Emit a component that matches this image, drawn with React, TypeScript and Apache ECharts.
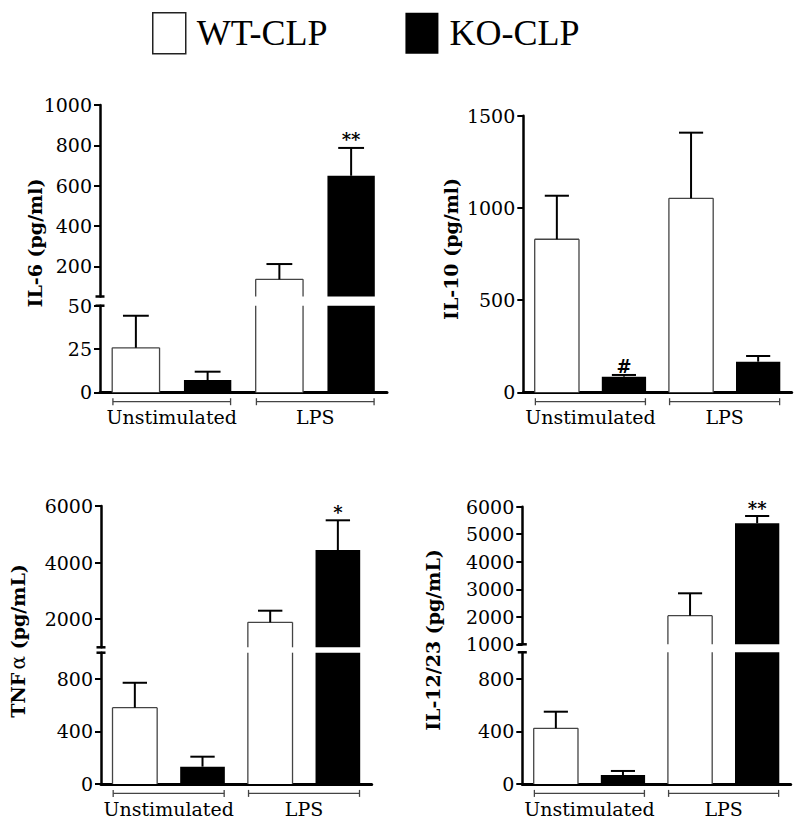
import React, { useEffect, useRef } from 'react';
import * as echarts from 'echarts';

const categories = ['Unstimulated', 'LPS'];
const groupNames = ['WT-CLP', 'KO-CLP'];

// IL-6 (pg/ml)
const il6WT = [25.7, 135];
const il6WTErr = [18.5, 76];
const il6KO = [7.1, 649];
const il6KOErr = [4.8, 138];
const il6KOSig = ['', '**'];
const il6LowerTicks = [0, 25, 50];
const il6UpperTicks = [200, 400, 600, 800, 1000];

// IL-10 (pg/ml)
const il10WT = [830, 1052];
const il10WTErr = [236, 356];
const il10KO = [85, 166];
const il10KOErr = [9, 31];
const il10KOSig = ['#', ''];
const il10Ticks = [0, 500, 1000, 1500];

// TNF alpha (pg/mL)
const tnfWT = [581, 1885];
const tnfWTErr = [190, 410];
const tnfKO = [132, 4443];
const tnfKOErr = [76, 1051];
const tnfKOSig = ['', '*'];
const tnfLowerTicks = [0, 400, 800];
const tnfUpperTicks = [2000, 4000, 6000];

// IL-12/23 (pg/mL)
const il12WT = [423, 2039];
const il12WTErr = [126, 814];
const il12KO = [68, 5397];
const il12KOErr = [31, 265];
const il12KOSig = ['', '**'];
const il12LowerTicks = [0, 400, 800];
const il12UpperTicks = [1000, 2000, 3000, 4000, 5000, 6000];

const SERIF = "'DejaVu Serif', serif";
const FS = 19;
const BAR_OFFSET = 0.25;
const BAR_WIDTH = 0.33;
const CAP_WIDTH = 0.18;
const BRACKET_HALF = 0.41;

type Seg = { min: number; max: number; top: number; height: number; ticks: number[] };
type Panel = {
  name: string;
  rich?: boolean;
  wt: number[]; wtErr: number[]; ko: number[]; koErr: number[]; sig: string[];
  left: number; width: number; nameX: number; nameY: number;
  segments: Seg[];
};

const panels: Panel[] = [
  {
    name: 'IL-6 (pg/ml)', wt: il6WT, wtErr: il6WTErr, ko: il6KO, koErr: il6KOErr, sig: il6KOSig,
    left: 100, width: 287, nameX: 35, nameY: 243,
    segments: [
      { min: 0, max: 50, top: 305.7, height: 86.6, ticks: il6LowerTicks },
      { min: 50, max: 1000, top: 105, height: 191.5, ticks: il6UpperTicks },
    ],
  },
  {
    name: 'IL-10 (pg/ml)', wt: il10WT, wtErr: il10WTErr, ko: il10KO, koErr: il10KOErr, sig: il10KOSig,
    left: 523.3, width: 268.4, nameX: 451, nameY: 249,
    segments: [{ min: 0, max: 1500, top: 115.7, height: 276.6, ticks: il10Ticks }],
  },
  {
    name: 'TNF α (pg/mL)', rich: true, wt: tnfWT, wtErr: tnfWTErr, ko: tnfKO, koErr: tnfKOErr, sig: tnfKOSig,
    left: 101, width: 270.7, nameX: 18, nameY: 641,
    segments: [
      { min: 0, max: 1000, top: 652.7, height: 131.3, ticks: tnfLowerTicks },
      { min: 1000, max: 6000, top: 506, height: 141.3, ticks: tnfUpperTicks },
    ],
  },
  {
    name: 'IL-12/23 (pg/mL)', wt: il12WT, wtErr: il12WTErr, ko: il12KO, koErr: il12KOErr, sig: il12KOSig,
    left: 522.3, width: 268.4, nameX: 433, nameY: 640,
    segments: [
      { min: 0, max: 1000, top: 652.3, height: 131.7, ticks: il12LowerTicks },
      { min: 1000, max: 6000, top: 506.7, height: 137.6, ticks: il12UpperTicks },
    ],
  },
];

function makeGroupRender(seg: Seg, sign: number, fill: string, stroke: string | null, errs: number[], sigs: string[] | null) {
  return (params: any, api: any) => {
    const cat = api.value(0);
    const val = api.value(1);
    const err = errs[params.dataIndex];
    const band = api.size([1, 0])[0];
    const children: any[] = [];
    const base = api.coord([cat, seg.min]);
    const cx = base[0] + sign * band * BAR_OFFSET;
    const w = band * BAR_WIDTH;
    const x0 = cx - w / 2;
    const x1 = cx + w / 2;
    if (val > seg.min) {
      const topVal = Math.min(val, seg.max);
      const yb = base[1];
      const yt = api.coord([cat, topVal])[1];
      children.push({ type: 'rect', shape: { x: x0, y: yt, width: w, height: yb - yt }, style: { fill } });
      if (stroke) {
        const ls = { stroke, lineWidth: 1.3 };
        children.push({ type: 'line', shape: { x1: x0, y1: yb, x2: x0, y2: yt }, style: ls });
        children.push({ type: 'line', shape: { x1: x1, y1: yb, x2: x1, y2: yt }, style: ls });
        if (val <= seg.max) children.push({ type: 'line', shape: { x1: x0, y1: yt, x2: x1, y2: yt }, style: ls });
      }
    }
    const hi = val + err;
    if (hi > seg.min && val < seg.max) {
      const ys = api.coord([cat, Math.max(val, seg.min)])[1];
      const ye = api.coord([cat, Math.min(hi, seg.max)])[1];
      children.push({ type: 'line', shape: { x1: cx, y1: ys, x2: cx, y2: ye }, style: { stroke: '#000', lineWidth: 2 } });
      if (hi <= seg.max) {
        const cw = band * CAP_WIDTH;
        children.push({ type: 'line', shape: { x1: cx - cw / 2, y1: ye, x2: cx + cw / 2, y2: ye }, style: { stroke: '#000', lineWidth: 2 } });
        const s = sigs ? sigs[params.dataIndex] : '';
        if (s) {
          children.push({
            type: 'text',
            style: { text: s, x: cx, y: ye + 1, align: 'center', verticalAlign: 'bottom', fontFamily: SERIF, fontWeight: 'bold', fontSize: 18, fill: '#000' },
          });
        }
      }
    }
    return { type: 'group', children };
  };
}

function bracketRender(params: any, api: any) {
  const cat = api.value(0);
  const band = api.size([1, 0])[0];
  const c = api.coord([cat, api.value(1)]);
  const half = band * BRACKET_HALF;
  const y = c[1] + 9.4;
  const ls = { stroke: '#444', lineWidth: 1.3 };
  return {
    type: 'group',
    children: [
      { type: 'line', shape: { x1: c[0] - half, y1: y, x2: c[0] + half, y2: y }, style: ls },
      { type: 'line', shape: { x1: c[0] - half, y1: y - 3.5, x2: c[0] - half, y2: y + 3.5 }, style: ls },
      { type: 'line', shape: { x1: c[0] + half, y1: y - 3.5, x2: c[0] + half, y2: y + 3.5 }, style: ls },
    ],
  };
}

function buildOption() {
  const grid: any[] = [];
  const xAxis: any[] = [];
  const yAxis: any[] = [];
  const series: any[] = [];
  panels.forEach((p) => {
    p.segments.forEach((seg, si) => {
      const gi = grid.length;
      const isBottom = si === 0;
      const isTop = si === p.segments.length - 1;
      grid.push({ left: p.left, top: seg.top, width: p.width, height: seg.height });
      xAxis.push({
        type: 'category',
        gridIndex: gi,
        data: categories,
        show: isBottom,
        axisLine: { show: true, lineStyle: { color: '#000', width: 3 } },
        axisTick: { show: false },
        axisLabel: { show: true, interval: 0, margin: 15, fontFamily: SERIF, fontSize: FS, color: '#000' },
        splitLine: { show: false },
      });
      yAxis.push({
        type: 'value',
        gridIndex: gi,
        min: seg.min,
        max: seg.max,
        splitLine: { show: false },
        axisLine: {
          show: true,
          lineStyle: { color: '#000', width: 2.5 },
          symbol: [isBottom ? 'none' : 'rect', isTop ? 'none' : 'rect'],
          symbolSize: [9, 2.5],
        },
        axisTick: { show: true, length: 6, lineStyle: { color: '#000', width: 2 }, customValues: seg.ticks },
        axisLabel: {
          show: true,
          customValues: seg.ticks,
          formatter: (v: number) => String(v),
          margin: 8,
          fontFamily: SERIF,
          fontSize: FS,
          color: '#000',
        },
      });
      series.push({
        type: 'custom',
        name: groupNames[0],
        xAxisIndex: gi,
        yAxisIndex: gi,
        clip: false,
        silent: true,
        itemStyle: { color: '#fff', borderColor: '#222' },
        data: p.wt.map((v, i) => [i, v]),
        renderItem: makeGroupRender(seg, -1, '#fff', '#444', p.wtErr, null),
      });
      series.push({
        type: 'custom',
        name: groupNames[1],
        xAxisIndex: gi,
        yAxisIndex: gi,
        clip: false,
        silent: true,
        itemStyle: { color: '#000' },
        data: p.ko.map((v, i) => [i, v]),
        renderItem: makeGroupRender(seg, 1, '#000', null, p.koErr, p.sig),
      });
      if (isBottom) {
        series.push({
          type: 'custom',
          name: 'groups',
          xAxisIndex: gi,
          yAxisIndex: gi,
          clip: false,
          silent: true,
          data: categories.map((c, i) => [i, 0]),
          renderItem: bracketRender,
        });
      }
    });
  });

  const graphic = panels.map((p) => {
    if (p.rich) {
      return {
        type: 'text',
        x: p.nameX,
        y: p.nameY,
        rotation: Math.PI / 2,
        style: {
          text: '{b|TNF} {a|α}  {b|(pg/mL)}',
          align: 'center',
          verticalAlign: 'middle',
          fill: '#000',
          rich: {
            b: { fontFamily: SERIF, fontWeight: 'bold', fontSize: FS, fill: '#000' },
            a: { fontFamily: SERIF, fontWeight: 'normal', fontSize: 20, fill: '#000' },
          },
        },
      };
    }
    return {
      type: 'text',
      x: p.nameX,
      y: p.nameY,
      rotation: Math.PI / 2,
      style: {
        text: p.name,
        align: 'center',
        verticalAlign: 'middle',
        fontFamily: SERIF,
        fontWeight: 'bold',
        fontSize: FS,
        fill: '#000',
      },
    };
  });

  return {
    animation: false,
    backgroundColor: '#fff',
    legend: {
      left: 147,
      top: 7,
      itemWidth: 33,
      itemHeight: 41,
      itemGap: 78,
      icon: 'rect',
      selectedMode: false,
      textStyle: { fontFamily: "'Liberation Serif', serif", fontSize: 36, color: '#000', padding: [0, 0, 0, 6] },
      data: [
        { name: groupNames[0], itemStyle: { color: '#fff', borderColor: '#222', borderWidth: 1.5 } },
        { name: groupNames[1], itemStyle: { color: '#000', borderWidth: 0 } },
      ],
    },
    grid,
    xAxis,
    yAxis,
    series,
    graphic,
  };
}

export default function App() {
  const ref = useRef<HTMLDivElement>(null);
  useEffect(() => {
    if (!ref.current) return;
    const chart = echarts.init(ref.current, undefined, { renderer: 'svg' });
    chart.setOption(buildOption() as any);
    return () => chart.dispose();
  }, []);
  return <div ref={ref} style={{ position: 'fixed', left: 0, top: 0, width: 800, height: 823, background: '#fff' }} />;
}
